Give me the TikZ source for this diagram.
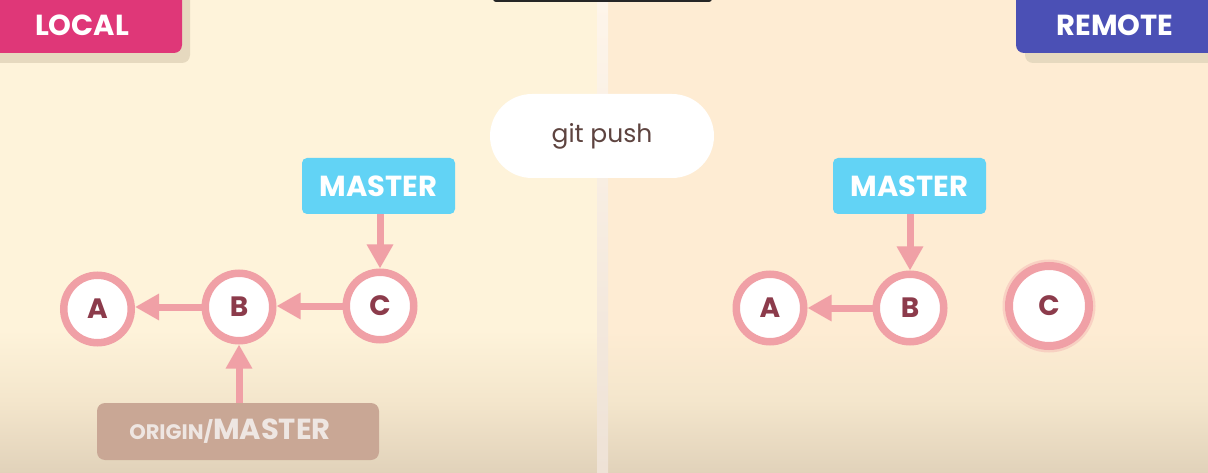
\documentclass[tikz,border=0pt]{standalone}
\usepackage{fontspec}
\setmainfont{Poppins}
\usetikzlibrary{arrows.meta}

\definecolor{bgleft}{HTML}{FEF3DA}
\definecolor{bgright}{HTML}{FEECD3}
\definecolor{bgstrip}{HTML}{FEF5EA}
\definecolor{bgmid}{HTML}{F4E6CC}
\definecolor{bgbottom}{HTML}{E1D2BA}
\definecolor{stripbottom}{HTML}{EEE2D6}
\definecolor{localpink}{HTML}{DF3778}
\definecolor{remoteblue}{HTML}{4B50B5}
\definecolor{tabshadow}{HTML}{E6D9BF}
\definecolor{mastercyan}{HTML}{62D3F5}
\definecolor{ringpink}{HTML}{F0A0A6}
\definecolor{maroon}{HTML}{8C3B4B}
\definecolor{origintan}{HTML}{C9A795}
\definecolor{origintext}{HTML}{EEE6E2}
\definecolor{cmdtext}{HTML}{5E4440}

\newcommand{\pfont}[1]{\fontsize{#1}{#1}\selectfont}

\begin{document}
\begin{tikzpicture}[x=1pt,y=-1pt,
  commit/.style={circle, draw=ringpink, line width=7.5pt, fill=white,
    minimum size=67.5pt, inner sep=0pt, text=maroon, font=\bfseries\pfont{28}},
  link/.style={draw=ringpink, line width=7pt,
    -{Triangle[width=25pt,length=24pt]}},
  branch/.style={fill=mastercyan, rounded corners=5pt, text=white,
    font=\bfseries\pfont{29}, minimum width=153pt, minimum height=56pt, inner sep=0pt},
  tabtext/.style={text=white, font=\bfseries\pfont{29}, inner sep=0pt}]

\useasboundingbox (0,0) rectangle (1208,473);

% background halves and the bright seam between them
\fill[bgleft] (0,0) rectangle (600,473);
\fill[bgright] (600,0) rectangle (1208,473);
\shade[top color=bgleft, bottom color=bgmid] (0,330) rectangle (597,400.5);
\shade[top color=bgmid, bottom color=bgbottom] (0,400) rectangle (597,473);
\shade[top color=bgright, bottom color=bgmid] (608,330) rectangle (1208,400.5);
\shade[top color=bgmid, bottom color=bgbottom] (608,400) rectangle (1208,473);
\shade[top color=bgstrip, bottom color=stripbottom] (597,0) rectangle (608,473);

% dark bar at the top edge
\fill[black!85, rounded corners=3pt] (493,-6) rectangle (712,2);

% LOCAL tab
\fill[tabshadow, rounded corners=8pt] (-10,-10) rectangle (190,63);
\fill[localpink, rounded corners=8pt] (-10,-10) rectangle (182,53);
\node[tabtext] (local) at (82,25) {LOCAL};

% REMOTE tab
\fill[tabshadow, rounded corners=8pt] (1025,-10) rectangle (1220,63);
\fill[remoteblue, rounded corners=8pt] (1016,-10) rectangle (1220,53);
\node[tabtext] (remote) at (1115,25) {REMOTE};

% command bubble
\node[fill=white, rounded corners=42pt, minimum width=224pt, minimum height=84pt,
  text=cmdtext, font=\pfont{25}, inner sep=0pt] (cmd) at (602,136) {git push};

% local repository
\node[branch] (lmaster) at (378.5,186) {MASTER};
\node[commit] (la) at (97.5,309) {A};
\node[commit] (lb) at (239,307) {B};
\node[commit] (lc) at (380,306) {C};
\node[fill=origintan, rounded corners=8pt, minimum width=282pt, minimum height=57pt,
  text=origintext, inner sep=0pt] (origin) at (238,431.5)
  {\hbox{\bfseries{\pfont{21}ORIGIN/}{\pfont{29}MASTER}\kern16pt}};

\draw[link] (lb.west) -- (lb.west -| la.east);
\draw[link] (lc.west) -- (lc.west -| lb.east);
\draw[link] (lmaster.south -| lc) -- (lc);
\draw[link] (origin.north -| lb) -- (lb);

% remote repository
\node[branch] (rmaster) at (909.5,186) {MASTER};
\node[commit] (ra) at (770,308) {A};
\node[commit] (rb) at (910,308) {B};
\draw[ringpink, opacity=0.35, line width=3pt] (1049,306) circle (45pt);
\node[commit, line width=8pt, minimum size=80pt] (rc) at (1049,306) {C};

\draw[link] (rb) -- (ra);
\draw[link] (rmaster.south -| rb) -- (rb);

\end{tikzpicture}
\end{document}
